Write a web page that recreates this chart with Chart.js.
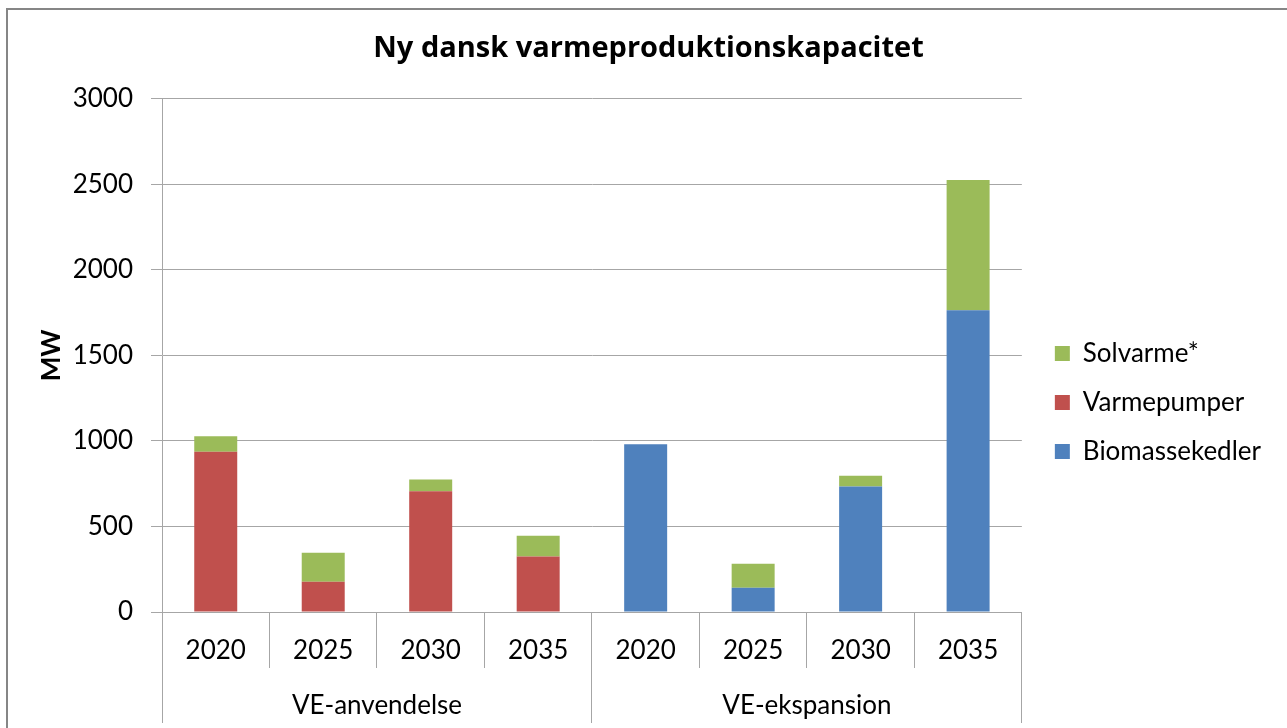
<!DOCTYPE html>
<html>
<head>
<meta charset="utf-8">
<script src="https://cdn.jsdelivr.net/npm/chart.js@4.4.1/dist/chart.umd.min.js"></script>
<style>
  html, body { margin: 0; padding: 0; background: #fff; overflow: hidden; }
  #frame { position: absolute; left: 6px; top: 8px; width: 1400px; height: 800px; border: 2px solid #868686; }
  #wrap { position: absolute; left: 0; top: 0; width: 1287px; height: 728px; }
</style>
</head>
<body>
<div id="frame"></div>
<div id="wrap"><canvas id="chart"></canvas></div>
<script>
// values (MW)
const years = ['2020', '2025', '2030', '2035', '2020', '2025', '2030', '2035'];
const groups = ['VE-anvendelse', 'VE-ekspansion'];
const biomassekedler = [0, 0, 0, 0, 981, 142, 733, 1764];
const varmepumper = [937, 177, 706, 324, 0, 0, 0, 0];
const solvarme = [90, 170, 68, 122, 0, 140, 64, 762];

const FONT = 'Lato';
const GRID = '#a6a6a6';
const LEGEND_DX = 10;
const LEGEND_DY = 41;
const TITLE_DX = 18;

// nudge legend and title so they sit like the Excel ones
const boxNudge = {
  id: 'boxNudge',
  afterLayout(chart) {
    const lg = chart.legend;
    if (lg) {
      lg.left += LEGEND_DX; lg.right += LEGEND_DX;
      lg.top += LEGEND_DY; lg.bottom += LEGEND_DY;
    }
    const tb = chart.titleBlock;
    if (tb) { tb.left += TITLE_DX; tb.right += TITLE_DX; }
  }
};

new Chart(document.getElementById('chart'), {
  type: 'bar',
  data: {
    labels: years,
    datasets: [
      { label: 'Biomassekedler', data: biomassekedler, backgroundColor: '#4F81BD' },
      { label: 'Varmepumper', data: varmepumper, backgroundColor: '#C0504D' },
      { label: 'Solvarme*', data: solvarme, backgroundColor: '#9BBB59' }
    ]
  },
  options: {
    responsive: true,
    maintainAspectRatio: false,
    animation: false,
    datasets: { bar: { barPercentage: 0.4, categoryPercentage: 1.0, borderWidth: 0 } },
    layout: { padding: { left: 0, top: 0, right: 26, bottom: 5 } },
    plugins: {
      title: {
        display: true,
        text: 'Ny dansk varmeproduktionskapacitet',
        color: '#000',
        font: { family: 'Open Sans', size: 29, weight: 'bold' },
        padding: { top: 31, bottom: 33 }
      },
      legend: {
        position: 'right',
        reverse: true,
        labels: {
          color: '#000',
          font: { family: FONT, size: 26 },
          boxWidth: 15,
          boxHeight: 15,
          padding: 23
        }
      },
      tooltip: { enabled: false }
    },
    scales: {
      x: {
        type: 'category',
        position: 'bottom',
        stacked: true,
        weight: 0,
        grid: { offset: true, drawOnChartArea: false, tickLength: 56, color: GRID },
        border: { color: GRID },
        ticks: { color: '#000', font: { family: FONT, size: 26 }, padding: -33, maxRotation: 0, autoSkip: false },
        afterFit(s) { s.height = 56; }
      },
      x2: {
        type: 'category',
        position: 'bottom',
        labels: groups,
        weight: 1,
        grid: { offset: true, drawOnChartArea: false, tickLength: 55, color: GRID },
        border: { display: false },
        ticks: { color: '#000', font: { family: FONT, size: 26 }, padding: -33, maxRotation: 0, autoSkip: false },
        afterFit(s) { s.height = 55; }
      },
      y: {
        stacked: true,
        min: 0,
        max: 3000,
        ticks: {
          stepSize: 500,
          color: '#000',
          font: { family: FONT, size: 26 },
          padding: 18,
          callback: v => String(v)
        },
        grid: { color: GRID, tickLength: 11 },
        border: { color: GRID },
        title: {
          display: true,
          text: 'MW',
          color: '#000',
          font: { family: FONT, size: 26, weight: 'bold' },
          padding: { top: 36, bottom: 0 }
        },
        afterFit(s) { s.width = 162; }
      }
    }
  },
  plugins: [boxNudge]
});
</script>
</body>
</html>
